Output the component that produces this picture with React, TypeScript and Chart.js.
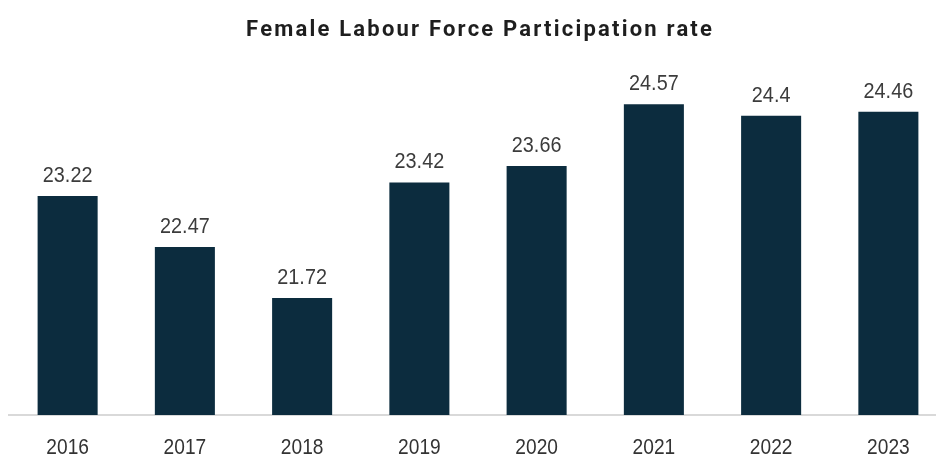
import React, { useEffect, useRef } from "react";
import { Chart, registerables } from "chart.js";

Chart.register(...registerables);

const years = ["2016", "2017", "2018", "2019", "2020", "2021", "2022", "2023"];
const rates = [23.22, 22.47, 21.72, 23.42, 23.66, 24.57, 24.4, 24.46];
const chartTitle = "Female Labour Force Participation rate";

const decorations = {
  id: "decorations",
  afterDraw(chart: any) {
    const ctx = chart.ctx;
    const meta = chart.getDatasetMeta(0);
    const xScale = chart.scales.x;
    ctx.save();
    ctx.textAlign = "center";
    // value labels
    ctx.font = "22px 'Liberation Sans', Arial, sans-serif";
    ctx.fillStyle = "#3c3c3c";
    ctx.textBaseline = "alphabetic";
    meta.data.forEach((bar: any, i: number) => {
      ctx.save();
      ctx.translate(bar.x, bar.y - 14);
      ctx.scale(0.9, 1);
      ctx.fillText(String(rates[i]), 0, 0);
      ctx.restore();
    });
    // category labels
    ctx.font = "22px 'Liberation Sans', Arial, sans-serif";
    ctx.fillStyle = "#333333";
    ctx.textBaseline = "alphabetic";
    years.forEach((y, i) => {
      const x = xScale.getPixelForTick(i);
      ctx.save();
      ctx.translate(x, 454);
      ctx.scale(0.87, 1);
      ctx.fillText(y, 0, 0);
      ctx.restore();
    });
    // title
    ctx.font = "bold 22px Roboto, sans-serif";
    ctx.fillStyle = "#1e1e1e";
    (ctx as any).letterSpacing = "2.2px";
    ctx.textBaseline = "middle";
    ctx.fillText(chartTitle, 479 + 1.1, 30);
    ctx.restore();
  },
};

export default function App() {
  const ref = useRef<HTMLCanvasElement>(null);
  useEffect(() => {
    document.body.style.margin = "0";
    const chart = new Chart(ref.current!, {
      type: "bar",
      data: {
        labels: years,
        datasets: [
          {
            data: rates,
            backgroundColor: "#0c2c3e",
            categoryPercentage: 1,
            barPercentage: 0.512,
          },
        ],
      },
      options: {
        animation: false,
        responsive: false,
        layout: { padding: { left: 9, right: 1, top: 75, bottom: 0 } },
        plugins: {
          legend: { display: false },
          tooltip: { enabled: false },
          title: { display: false },
        },
        scales: {
          x: {
            grid: { display: false, drawTicks: false },
            border: { display: true, color: "#d9d9d9", width: 2 },
            ticks: { display: false },
            afterFit(scale: any) {
              scale.height = 43;
            },
          },
          y: {
            display: false,
            min: 20,
            max: 25,
          },
        },
      },
      plugins: [decorations],
    });
    return () => chart.destroy();
  }, []);
  return (
    <div style={{ width: 936, height: 458, overflow: "hidden" }}>
      <canvas ref={ref} width={948} height={458} style={{ display: "block" }} />
    </div>
  );
}
